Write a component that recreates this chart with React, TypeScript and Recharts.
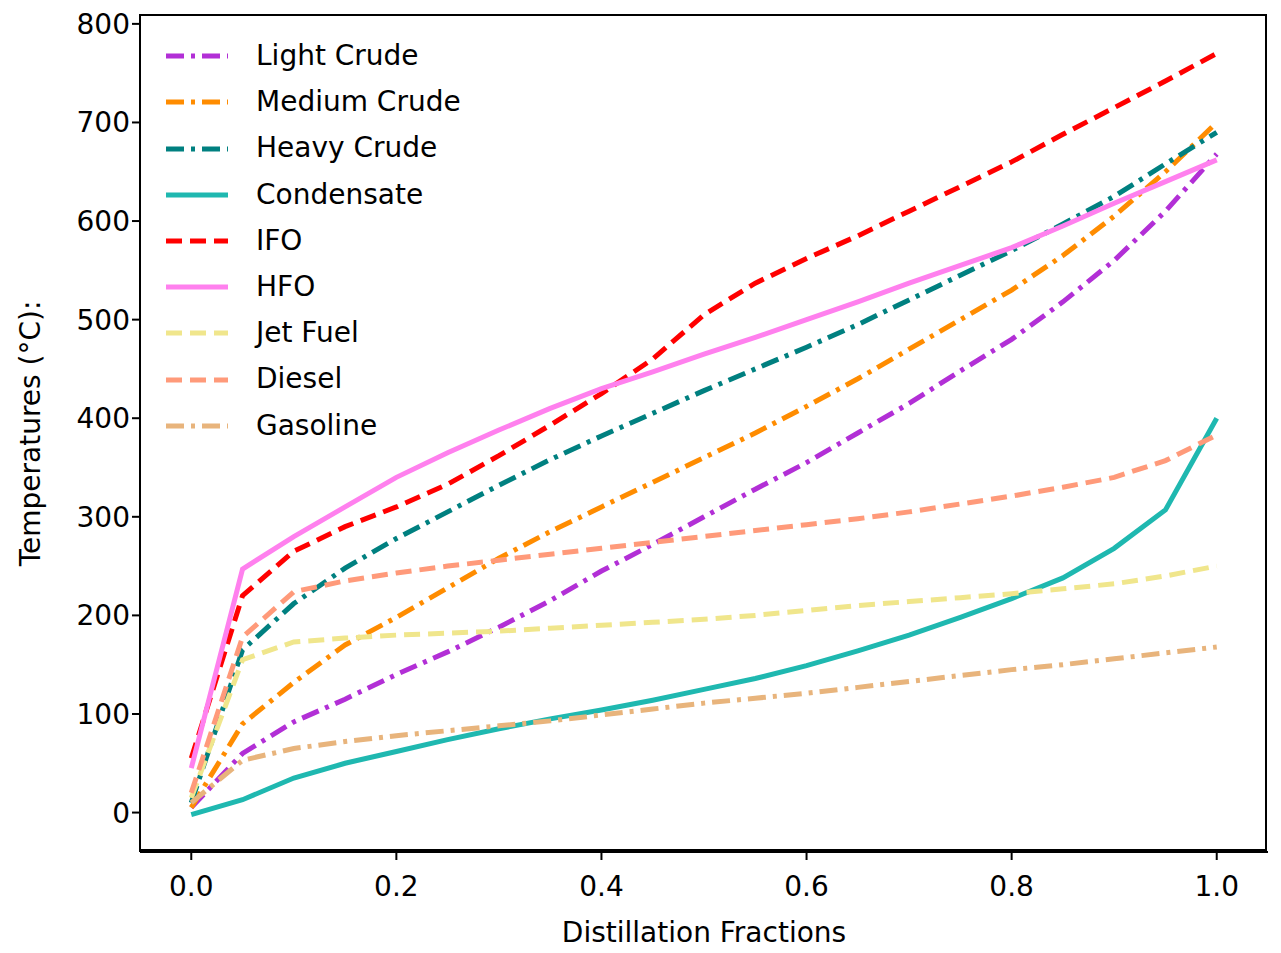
import { LineChart, Line, XAxis, YAxis } from 'recharts';

const fractions = [0, 0.05, 0.1, 0.15, 0.2, 0.25, 0.3, 0.35, 0.4, 0.45, 0.5, 0.55, 0.6, 0.65, 0.7, 0.75, 0.8, 0.85, 0.9, 0.95, 1.0];
const lightCrude = [5, 60, 92, 115, 140, 163, 188, 215, 245, 272, 300, 328, 355, 385, 415, 448, 480, 518, 560, 610, 668];
const mediumCrude = [5, 90, 132, 170, 198, 228, 258, 285, 310, 335, 360, 385, 412, 440, 470, 500, 530, 565, 605, 650, 700];
const heavyCrude = [10, 165, 212, 248, 278, 305, 332, 358, 382, 405, 428, 450, 472, 495, 520, 545, 570, 597, 625, 658, 690];
const condensate = [-2, 13, 35, 50, 62, 74, 85, 95, 104, 114, 125, 136, 149, 164, 180, 198, 217, 238, 268, 307, 400];
const ifo = [55, 220, 265, 290, 310, 333, 362, 393, 425, 460, 505, 537, 562, 585, 610, 635, 660, 688, 715, 742, 770];
const hfo = [45, 247, 280, 310, 340, 365, 388, 410, 430, 447, 465, 482, 500, 518, 537, 555, 573, 595, 618, 640, 662];
const jetFuel = [15, 155, 173, 177, 180, 182, 184, 187, 190, 193, 196, 200, 205, 210, 214, 218, 222, 227, 232, 240, 250];
const diesel = [20, 178, 224, 235, 243, 250, 256, 262, 268, 274, 280, 286, 292, 298, 305, 313, 321, 330, 340, 357, 383];
const gasoline = [10, 53, 65, 72, 78, 83, 88, 93, 99, 105, 111, 116, 121, 127, 133, 139, 145, 150, 156, 162, 168];
const xTicks = [0, 0.2, 0.4, 0.6, 0.8, 1.0];
const yTicks = [0, 100, 200, 300, 400, 500, 600, 700, 800];

const DASHDOT = '18 7 4 7';
const DASHED = '16 8';

const series = [
  { key: 'Light Crude', values: lightCrude, color: '#b22fd6', dash: DASHDOT },
  { key: 'Medium Crude', values: mediumCrude, color: '#ff8c00', dash: DASHDOT },
  { key: 'Heavy Crude', values: heavyCrude, color: '#008080', dash: DASHDOT },
  { key: 'Condensate', values: condensate, color: '#1fb8b0', dash: undefined },
  { key: 'IFO', values: ifo, color: '#ff0000', dash: DASHED },
  { key: 'HFO', values: hfo, color: '#ff80ee', dash: undefined },
  { key: 'Jet Fuel', values: jetFuel, color: '#f0e68c', dash: DASHED },
  { key: 'Diesel', values: diesel, color: '#ff9a7a', dash: DASHED },
  { key: 'Gasoline', values: gasoline, color: '#e8b47c', dash: DASHDOT },
];

const data = fractions.map((f, i) => {
  const row: Record<string, number> = { f };
  series.forEach((s) => (row[s.key] = s.values[i]));
  return row;
});

const font = { fontFamily: 'DejaVu Sans', fontSize: 28, fill: '#000' };

const LegendBox = () => (
  <div style={{ position: 'absolute', top: 33, left: 166, fontFamily: 'DejaVu Sans', fontSize: 28, lineHeight: '46.2px' }}>
    {series.map((s) => (
      <div key={s.key} style={{ display: 'flex', alignItems: 'center' }}>
        <svg width={62} height={10} style={{ marginRight: 28 }}>
          <line x1={0} y1={5} x2={62} y2={5} stroke={s.color} strokeWidth={5} strokeDasharray={s.dash} />
        </svg>
        <span>{s.key}</span>
      </div>
    ))}
  </div>
);

export default function App() {
  return (
    <div style={{ position: 'relative', margin: '-8px 0 0 -8px', background: '#fff', width: 1281, height: 953 }}>
      <LineChart width={1281} height={953} data={data} margin={{ top: 15, right: 13, left: 12, bottom: 51 }}>
        <XAxis
          dataKey="f"
          type="number"
          domain={[-0.05, 1.05]}
          ticks={xTicks}
          tickFormatter={(v) => v.toFixed(1)}
          tick={{ ...font, dy: 14 }}
          stroke="#000"
          strokeWidth={2}
          tickSize={8}
          height={50}
          label={{ value: 'Distillation Fractions', position: 'insideBottom', offset: -40, style: font }}
        />
        <YAxis
          type="number"
          domain={[-40, 809]}
          ticks={yTicks}
          tick={font}
          stroke="#000"
          strokeWidth={2}
          tickSize={8}
          width={128}
          allowDataOverflow
          label={{ value: 'Temperatures (°C):', angle: -90, position: 'insideLeft', offset: 18, style: { ...font, textAnchor: 'middle' } }}
        />
        {series.map((s) => (
          <Line
            key={s.key}
            dataKey={s.key}
            stroke={s.color}
            strokeWidth={5}
            strokeDasharray={s.dash}
            dot={false}
            type="linear"
            isAnimationActive={false}
          />
        ))}
      </LineChart>
      <div style={{ position: 'absolute', left: 139, top: 14, width: 1128, height: 837, border: '2px solid #000', boxSizing: 'border-box', pointerEvents: 'none' }} />
      <LegendBox />
    </div>
  );
}
